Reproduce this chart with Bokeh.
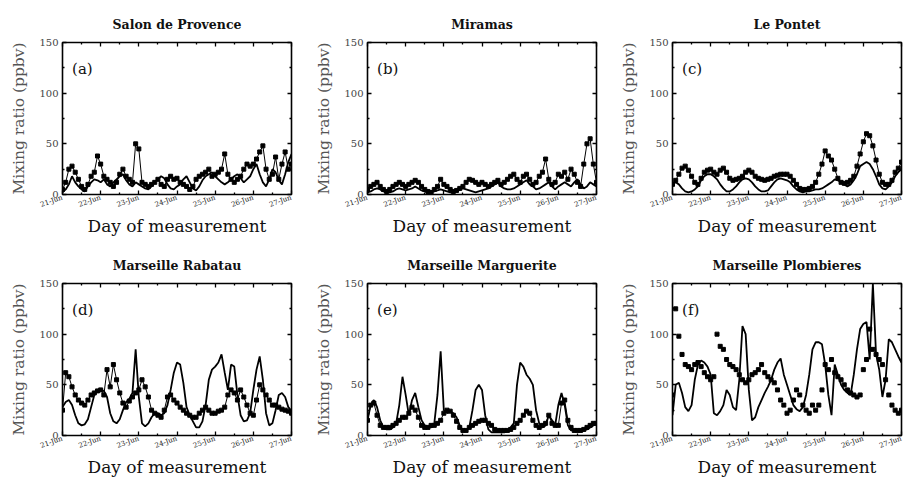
from bokeh.plotting import figure
from bokeh.models import Range1d, LinearAxis, FixedTicker, Label, GlobalInlineStyleSheet
from bokeh.layouts import row, column
from bokeh.embed import file_html
from bokeh.resources import INLINE

# ---------------- data ----------------
tick_days = [21, 22, 23, 24, 25, 26, 27]
tick_labels = ["21-Jun", "22-Jun", "23-Jun", "24-Jun", "25-Jun", "26-Jun", "27-Jun"]
half_days = [21.5, 22.5, 23.5, 24.5, 25.5, 26.5]
y_ticks = [0, 50, 100, 150]
y_minor = [25, 75, 125]

hours = list(range(0, 145, 2))          # every 2 h from 21-Jun 00:00
days = [21 + h / 24 for h in hours]

stations = ["Salon de Provence", "Miramas", "Le Pontet",
            "Marseille Rabatau", "Marseille Marguerite", "Marseille Plombieres"]
tags = ["(a)", "(b)", "(c)", "(d)", "(e)", "(f)"]

salon_obs = [5, 12, 25, 28, 22, 15, 8, 5, 10, 18, 22, 38,
             30, 18, 15, 12, 8, 12, 20, 25, 18, 15, 12, 50,
             45, 12, 10, 8, 10, 12, 15, 10, 8, 15, 18, 15,
             16, 12, 10, 8, 5, 8, 15, 18, 20, 22, 25, 18,
             20, 22, 25, 40, 20, 15, 12, 15, 18, 25, 30, 28,
             30, 35, 42, 48, 25, 15, 20, 37, 15, 30, 42, 25,
             30]
salon_mod = [2, 5, 10, 18, 12, 8, 5, 3, 8, 12, 15, 14,
             12, 15, 10, 8, 12, 15, 18, 20, 14, 10, 8, 12,
             10, 8, 6, 5, 8, 12, 15, 18, 16, 10, 6, 5,
             8, 10, 15, 18, 12, 6, 4, 8, 14, 18, 20, 22,
             18, 15, 12, 10, 12, 15, 18, 20, 16, 12, 15, 18,
             25, 30, 20, 12, 8, 15, 25, 22, 14, 10, 20, 32,
             40]

miramas_obs = [5, 8, 10, 12, 8, 5, 3, 5, 8, 10, 12, 10,
               8, 10, 12, 14, 12, 8, 5, 3, 2, 5, 8, 15,
               10, 8, 5, 3, 4, 6, 8, 12, 15, 14, 12, 10,
               12, 10, 8, 10, 12, 14, 10, 12, 15, 18, 20, 15,
               12, 18, 20, 15, 10, 12, 18, 22, 35, 15, 10, 12,
               20, 18, 22, 15, 25, 20, 12, 8, 30, 50, 55, 30,
               12]
miramas_mod = [2, 3, 5, 6, 5, 3, 2, 2, 3, 5, 6, 5,
               4, 5, 6, 8, 6, 4, 3, 2, 2, 3, 4, 5,
               4, 3, 2, 2, 3, 5, 6, 5, 4, 3, 2, 3,
               4, 5, 6, 8, 10, 12, 8, 6, 5, 5, 6, 8,
               10, 12, 14, 10, 8, 5, 6, 8, 10, 12, 8, 5,
               8, 10, 12, 10, 8, 12, 15, 10, 6, 8, 12, 10,
               8]

pontet_obs = [10, 14, 20, 26, 28, 24, 18, 12, 10, 16, 22, 24,
              25, 22, 20, 24, 26, 22, 16, 14, 15, 16, 18, 22,
              24, 22, 18, 16, 15, 14, 15, 16, 18, 19, 20, 20,
              20, 18, 14, 10, 6, 5, 5, 6, 8, 12, 20, 30,
              43, 38, 34, 25, 16, 12, 11, 12, 14, 18, 28, 40,
              52, 60, 58, 48, 34, 20, 12, 10, 10, 14, 22, 26,
              32]
pontet_mod = [10, 12, 10, 6, 3, 2, 3, 5, 8, 14, 18, 20,
              20, 18, 15, 10, 6, 3, 3, 5, 8, 12, 15, 16,
              15, 12, 8, 5, 3, 3, 4, 8, 12, 15, 16, 15,
              14, 12, 8, 5, 3, 2, 3, 3, 4, 5, 5, 6,
              8, 10, 12, 15, 14, 12, 10, 8, 10, 14, 20, 28,
              30, 32, 30, 25, 18, 10, 6, 5, 8, 12, 18, 22,
              25]

rabatau_obs = [25, 62, 58, 48, 40, 35, 32, 30, 35, 40, 42, 44,
               45, 40, 65, 48, 70, 55, 42, 32, 28, 34, 38, 42,
               45, 55, 48, 38, 25, 22, 20, 18, 25, 38, 40, 35,
               32, 28, 25, 22, 20, 18, 18, 22, 25, 28, 25, 22,
               22, 24, 25, 28, 40, 45, 42, 35, 45, 38, 30, 22,
               20, 35, 50, 45, 40, 35, 30, 30, 28, 26, 25, 24,
               22]
rabatau_mod = [28, 33, 35, 30, 20, 12, 10, 11, 16, 28, 40, 44,
               45, 44, 38, 22, 14, 12, 16, 25, 33, 36, 42, 85,
               38, 12, 9, 12, 18, 22, 22, 20, 22, 30, 45, 62,
               72, 70, 52, 28, 20, 14, 8, 8, 14, 30, 55, 65,
               68, 72, 80, 62, 45, 70, 68, 40, 20, 14, 15, 22,
               45, 65, 78, 55, 22, 10, 12, 25, 40, 42, 38, 28,
               24]

marguerite_obs = [15, 30, 32, 20, 10, 8, 8, 8, 10, 12, 15, 18,
                  18, 22, 28, 25, 18, 10, 8, 8, 10, 10, 12, 15,
                  22, 25, 24, 20, 14, 8, 5, 5, 8, 10, 12, 14,
                  15, 15, 12, 10, 6, 5, 5, 5, 5, 6, 8, 12,
                  15, 20, 24, 22, 15, 10, 8, 10, 12, 20, 12, 10,
                  10, 32, 35, 15, 8, 5, 5, 5, 6, 8, 10, 12,
                  12]
marguerite_mod = [15, 30, 35, 28, 15, 8, 6, 6, 8, 12, 30, 58,
                  40, 20, 35, 42, 28, 15, 10, 8, 8, 12, 40, 83,
                  25, 22, 24, 22, 18, 10, 5, 5, 8, 25, 45, 50,
                  45, 20, 6, 3, 3, 3, 3, 3, 5, 8, 12, 50,
                  72, 68, 60, 56, 50, 25, 12, 8, 10, 20, 15, 10,
                  30, 42, 30, 10, 5, 5, 5, 4, 5, 6, 8, 10,
                  12]

plombieres_obs = [40, 125, 98, 80, 70, 68, 65, 70, 72, 68, 62, 58,
                  55, 58, 100, 88, 85, 75, 70, 68, 65, 60, 55, 52,
                  55, 60, 62, 65, 70, 62, 58, 55, 52, 45, 35, 30,
                  22, 25, 35, 45, 40, 30, 25, 22, 30, 25, 30, 45,
                  70, 65, 75, 62, 58, 55, 50, 45, 42, 40, 38, 40,
                  65, 75, 105, 85, 80, 75, 70, 55, 40, 30, 25, 22,
                  25]
plombieres_mod = [20, 50, 52, 42, 28, 24, 30, 55, 70, 74, 72, 68,
                  60, 22, 20, 24, 30, 45, 40, 28, 25, 55, 108, 100,
                  45, 15, 18, 28, 35, 42, 48, 55, 65, 72, 76, 60,
                  50, 40, 30, 26, 24, 28, 40, 60, 85, 92, 92, 90,
                  70, 40, 20, 70, 60, 50, 45, 42, 40, 60, 85, 105,
                  110, 112, 75, 150, 80, 65, 38, 55, 95, 92, 85, 78,
                  72]

obs_series = [salon_obs, miramas_obs, pontet_obs, rabatau_obs, marguerite_obs, plombieres_obs]
mod_series = [salon_mod, miramas_mod, pontet_mod, rabatau_mod, marguerite_mod, plombieres_mod]
obs_joined = [True, True, True, True, True, False]

# ---------------- styling ----------------
FONT = "DejaVu Serif"


def style_axis(ax, labels=True):
    ax.major_tick_in = 4
    ax.major_tick_out = 0
    ax.minor_tick_in = 2
    ax.minor_tick_out = 0
    ax.major_tick_line_color = "black"
    ax.minor_tick_line_color = "black"
    ax.major_tick_line_width = 1.3
    ax.minor_tick_line_width = 1.3
    ax.axis_line_color = None
    if not labels:
        ax.major_label_text_font_size = "1px"
        ax.major_label_text_color = None
        ax.major_label_standoff = 0


def make_panel(i, left_border, right_border, top_border, bottom_border, frame_h):
    p = figure(frame_width=229, frame_height=frame_h,
               x_range=Range1d(21, 27), y_range=Range1d(0, 150),
               output_backend="svg", toolbar_location=None,
               min_border_left=left_border, min_border_right=right_border,
               min_border_top=top_border, min_border_bottom=bottom_border,
               title=stations[i])
    p.title.align = "center"
    p.title.text_font = FONT
    p.title.text_font_size = "12.5px"
    p.title.text_font_style = "bold"
    p.title.text_color = "#111111"
    p.title.standoff = 21
    p.xgrid.visible = False
    p.ygrid.visible = False
    p.outline_line_color = "black"
    p.outline_line_width = 1.6

    xt = FixedTicker(ticks=tick_days, minor_ticks=half_days)
    yt = FixedTicker(ticks=y_ticks, minor_ticks=y_minor)

    xa = p.xaxis[0]
    xa.ticker = xt
    xa.major_label_overrides = {d: s for d, s in zip(tick_days, tick_labels)}
    xa.major_label_orientation = 0.33
    xa.major_label_text_font = FONT
    xa.major_label_text_font_size = "7px"
    xa.major_label_text_color = "#222222"
    xa.major_label_standoff = 3
    xa.axis_label = "Day of measurement"
    xa.axis_label_text_font = FONT
    xa.axis_label_text_font_size = "17px"
    xa.axis_label_text_font_style = "normal"
    xa.axis_label_standoff = 0
    xa.axis_label_text_color = "#111111"
    style_axis(xa)

    ya = p.yaxis[0]
    ya.ticker = yt
    ya.major_label_text_font = FONT
    ya.major_label_text_font_size = "10px"
    ya.major_label_standoff = 4
    ya.axis_label = "Mixing ratio (ppbv)"
    ya.axis_label_text_font = FONT
    ya.axis_label_text_font_size = "15.5px"
    ya.axis_label_text_font_style = "normal"
    ya.axis_label_text_color = "#555555"
    ya.axis_label_standoff = 8
    style_axis(ya)

    ra = LinearAxis(ticker=FixedTicker(ticks=y_ticks, minor_ticks=y_minor))
    style_axis(ra, labels=False)
    p.add_layout(ra, "right")
    ta = LinearAxis(ticker=FixedTicker(ticks=tick_days, minor_ticks=half_days))
    style_axis(ta, labels=False)
    p.add_layout(ta, "above")

    p.line(days, mod_series[i], line_color="black", line_width=1.8)
    if obs_joined[i]:
        p.line(days, obs_series[i], line_color="black", line_width=1.0)
    p.scatter(days, obs_series[i], marker="square", size=4,
              fill_color="black", line_color="black")

    p.add_layout(Label(x=21.25, y=124, text=tags[i], text_font=FONT,
                       text_font_size="15px", text_baseline="middle",
                       text_color="#111111"))
    return p


panels = []
for i in range(6):
    lb = 62 if i % 3 == 0 else 54
    rb = 14 if i % 3 == 2 else 21
    if i < 3:
        panels.append(make_panel(i, lb, rb, 42, 50, 152))
    else:
        panels.append(make_panel(i, lb, rb, 39, 40, 152))

layout = column(row(*panels[:3]), row(*panels[3:]),
                stylesheets=[GlobalInlineStyleSheet(css="html, body { overflow: hidden; }")])

open("out.html", "w").write(file_html(layout, INLINE))
